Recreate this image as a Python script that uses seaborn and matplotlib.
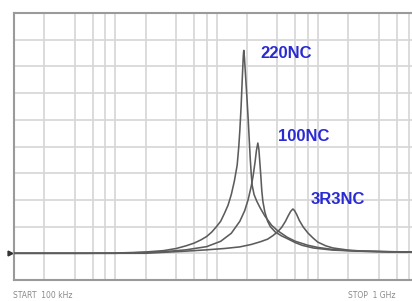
import numpy as np
import pandas as pd
import matplotlib
matplotlib.use("Agg")
import matplotlib.pyplot as plt
import seaborn as sns

# frequency in MHz (log axis 100 kHz .. 1 GHz), level in screen divisions (0..10)
freq_220 = [0.1, 0.5, 1.0, 1.5, 2.0, 3.0, 4.0, 5.0, 6.0, 7.0, 8.0, 9.0, 10.0, 11.0, 12.0,
            13.0, 14.0, 15.0, 16.0, 16.6, 17.0, 17.5, 18.0, 18.4, 18.6, 18.9, 19.4, 20.0,
            20.5, 20.9, 21.5, 22.0, 22.5, 23.5, 25.0, 27.0, 30.0, 35.0, 40.0, 50.0, 60.0,
            80.0, 100, 150, 250, 500, 1000]
level_220 = [1.0, 1.0, 1.01, 1.03, 1.05, 1.1, 1.18, 1.28, 1.38, 1.5, 1.63, 1.8, 2.0, 2.2,
             2.5, 2.8, 3.2, 3.7, 4.3, 5.0, 5.6, 6.5, 7.6, 8.4, 8.6, 8.3, 7.6, 6.8,
             6.1, 5.5, 4.6, 4.0, 3.55, 3.2, 2.95, 2.7, 2.4, 2.05, 1.85, 1.6, 1.45,
             1.3, 1.22, 1.13, 1.08, 1.05, 1.04]

freq_100 = [0.1, 1.0, 2.0, 3.0, 5.0, 8.0, 11.0, 14.0, 17.0, 19.0, 20.5, 22.0, 23.0, 24.0,
            24.8, 25.6, 26.2, 26.8, 27.4, 28.0, 28.7, 30.0, 32.0, 34.0, 38.0, 44.0, 50.0,
            60.0, 70.0, 90.0, 140, 260, 1000]
level_100 = [1.0, 1.0, 1.03, 1.06, 1.13, 1.25, 1.45, 1.75, 2.2, 2.6, 3.0, 3.5, 3.9, 4.4,
             4.85, 5.13, 4.9, 4.4, 3.9, 3.35, 2.95, 2.55, 2.2, 2.0, 1.8, 1.65, 1.55,
             1.4, 1.3, 1.2, 1.12, 1.08, 1.04]

freq_3r3 = [0.1, 2.0, 5.0, 8.0, 12.0, 17.0, 22.0, 27.0, 32.0, 36.0, 40.0, 44.0, 48.0, 51.0,
            54.0, 56.8, 59.0, 62.0, 66.0, 72.0, 80.0, 90.0, 100, 120, 141, 200, 260, 500, 1000]
level_3r3 = [1.0, 1.0, 1.08, 1.13, 1.18, 1.24, 1.33, 1.43, 1.53, 1.66, 1.8, 1.97, 2.2, 2.4,
             2.57, 2.66, 2.6, 2.45, 2.22, 1.98, 1.76, 1.57, 1.42, 1.28, 1.2, 1.12, 1.09, 1.06, 1.05]

labels = ["220NC", "100NC", "3R3NC"]
label_freq = [27.4, 40.4, 85.5]
label_level = [8.5, 5.39, 3.0]

start_text = "START  100 kHz"
stop_text = "STOP  1 GHz"

sns.set_style("white")

fig = plt.figure(figsize=(4.12, 3.01), dpi=100)
ax = fig.add_axes([14 / 412, 21 / 301, 405 / 412, 267 / 301])

curves = [(freq_220, level_220), (freq_100, level_100), (freq_3r3, level_3r3)]
for f, v in curves:
    df = pd.DataFrame({"freq": f, "level": v})
    sns.lineplot(data=df, x="freq", y="level", ax=ax, color="#5c5c5c",
                 linewidth=1.15, estimator=None, sort=False, zorder=3)

ax.set_xscale("log")
ax.set_xlim(0.1, 1000)
ax.set_ylim(0, 10)

grid_x = [m * 10.0 ** d for d in range(-1, 3) for m in (2, 4, 6, 8, 10)]
ax.set_xticks(grid_x)
ax.set_xticks([], minor=True)
ax.set_yticks(range(11))
ax.set_xticklabels([])
ax.set_yticklabels([])
ax.tick_params(length=0)
ax.grid(True, color="#d6d6d6", linewidth=1.2)
ax.set_xlabel("")
ax.set_ylabel("")

for side in ["left", "top", "bottom", "right"]:
    ax.spines[side].set_color("#9a9a9a")
    ax.spines[side].set_linewidth(1.5)

# reference marker on the left edge
ax.plot([0.092], [1.0], marker=">", color="#333333", markersize=3.5, clip_on=False)

for name, fx, fy in zip(labels, label_freq, label_level):
    ax.text(fx, fy, name, color="#2a2ad4", fontsize=12, fontweight="bold",
            family=["Liberation Sans", "DejaVu Sans"], ha="left", va="center")

fig.text(13 / 412, 1 - 291 / 301, start_text, fontsize=5.5, color="#8a8a8a",
         ha="left", va="top")
fig.text(348 / 412, 1 - 291 / 301, stop_text, fontsize=5.5, color="#8a8a8a",
         ha="left", va="top")

fig.savefig("out.png", dpi=100, facecolor="white")
